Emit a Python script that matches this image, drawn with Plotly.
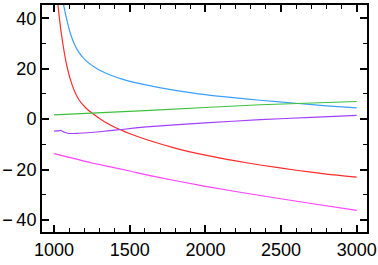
import plotly.graph_objects as go

# Data
red_x = [1015, 1026, 1048, 1086, 1120, 1163, 1210, 1250, 1330, 1430, 1515, 1634, 1800, 2000, 2200, 2362, 2600, 2800, 3000]
red_y = [52, 45, 33.9, 20.6, 13.4, 7.8, 4.4, 2.4, -0.9, -4.0, -6.1, -8.6, -11.5, -14.3, -16.6, -18.2, -20.3, -21.8, -23.0]

blue_x = [1045, 1064, 1085, 1108, 1135, 1163, 1210, 1273, 1350, 1450, 1582, 1800, 2000, 2200, 2362, 2613, 2800, 3000]
blue_y = [51, 45, 39.2, 33.9, 29.6, 26.6, 23.2, 20.4, 18.0, 15.9, 13.9, 11.4, 9.7, 8.4, 7.5, 6.2, 5.3, 4.5]

green_x = [1000, 1634, 2362, 3000]
green_y = [1.7, 3.5, 5.7, 7.0]

purple_x = [1000, 1020, 1044, 1065, 1090, 1120, 1160, 1220, 1300, 1432, 1634, 2000, 2362, 2700, 3000]
purple_y = [-4.8, -4.7, -4.5, -5.1, -5.6, -5.7, -5.6, -5.4, -5.0, -4.2, -3.0, -1.5, -0.2, 0.7, 1.5]

pink_x = [1000, 1250, 1500, 1634, 2000, 2362, 2700, 3000]
pink_y = [-13.7, -17.4, -20.6, -22.4, -26.7, -30.3, -33.5, -36.2]

x_ticks = [1000, 1500, 2000, 2500, 3000]
x_labels = ["1000", "1500", "2000", "2500", "3000"]
y_ticks = [-40, -20, 0, 20, 40]
y_labels = ["\u2212\u200940", "\u2212\u200920", "0", "20", "40"]

series = [
    (red_x, red_y, "#ff2a2a"),
    (blue_x, blue_y, "#3aa0ff"),
    (green_x, green_y, "#3cc03c"),
    (purple_x, purple_y, "#a040ff"),
    (pink_x, pink_y, "#ff40ff"),
]

fig = go.Figure()
for xs, ys, col in series:
    fig.add_trace(go.Scatter(x=xs, y=ys, mode="lines",
                             line=dict(color=col, width=1.2, shape="spline", smoothing=0.6),
                             showlegend=False, hoverinfo="skip"))

axis_common = dict(
    showgrid=False, zeroline=False, showline=True, linecolor="black", linewidth=2,
    mirror="ticks", ticks="inside", tickcolor="black", tickwidth=1.5,
    automargin=False,
    tickfont=dict(family="Liberation Sans, Arial, sans-serif", size=18, color="black"),
)

fig.update_layout(
    width=378, height=265,
    margin=dict(l=42, r=11, t=5, b=33),
    paper_bgcolor="white", plot_bgcolor="white",
    xaxis=dict(range=[920, 3068], tickvals=x_ticks, ticktext=x_labels, ticklen=7,
               minor=dict(ticks="inside", dtick=100, ticklen=4, tickcolor="black", tickwidth=1),
               **axis_common),
    yaxis=dict(range=[-44.8, 45.3], tickvals=y_ticks, ticktext=y_labels, ticklen=7,
               minor=dict(ticks="inside", dtick=10, ticklen=4, tickcolor="black", tickwidth=1),
               **axis_common),
)

fig.write_html("out.html", config={"displayModeBar": False},
               post_script="document.body.style.margin='0';document.body.style.padding='0';")
